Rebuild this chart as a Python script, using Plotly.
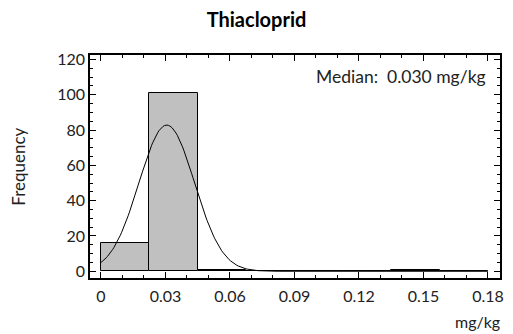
import numpy as np
import plotly.graph_objects as go

# Histogram bins (mg/kg) and frequencies
bin_left = [0.0, 0.0225, 0.045, 0.0675, 0.09, 0.1125, 0.135, 0.1575]
counts = [16, 101, 1, 0, 0, 0, 1, 0]
bin_width = 0.0225

# Fitted normal curve parameters
fit_mean = 0.0306
fit_sd = 0.0129
n_total = sum(counts)

x_ticks = [0, 0.03, 0.06, 0.09, 0.12, 0.15, 0.18]
x_tick_text = ["0", "0.03", "0.06", "0.09", "0.12", "0.15", "0.18"]
y_ticks = [0, 20, 40, 60, 80, 100, 120]

centers = [b + bin_width / 2 for b in bin_left]
xc = np.linspace(0, 0.18, 300)
yc = n_total * bin_width / (fit_sd * np.sqrt(2 * np.pi)) * np.exp(-0.5 * ((xc - fit_mean) / fit_sd) ** 2)

FONT = "Lato"

fig = go.Figure()
fig.add_trace(go.Bar(x=centers, y=counts, width=[bin_width] * len(counts),
                     marker=dict(color="#c0c0c0", line=dict(color="#000000", width=1)),
                     showlegend=False))
fig.add_trace(go.Scatter(x=xc, y=yc, mode="lines", line=dict(color="#000000", width=1),
                         showlegend=False))

axis_common = dict(showline=True, linecolor="#000000", linewidth=1.5, mirror="ticks",
                   ticks="inside", ticklen=6, tickcolor="#000000", tickwidth=1,
                   showgrid=False, zeroline=False, automargin=False,
                   tickfont=dict(family=FONT, size=16, color="#222222"))

fig.update_layout(
    width=513, height=334,
    margin=dict(l=90, r=13, t=55, b=56),
    plot_bgcolor="white", paper_bgcolor="white",
    bargap=0,
    title=dict(text="<b>Thiacloprid</b>", x=0.5, xanchor="center", y=0.94, yanchor="middle",
               font=dict(family=FONT, size=20, color="#000000")),
    xaxis=dict(range=[-0.0051, 0.1856], tickvals=x_ticks, ticktext=x_tick_text,
               ticklabelstandoff=3,
               minor=dict(dtick=0.01, tick0=0, ticks="inside", ticklen=3, tickcolor="#000000"),
               **axis_common),
    yaxis=dict(range=[-3.8, 122.5], tickvals=y_ticks,
               minor=dict(dtick=5, tick0=0, ticks="inside", ticklen=3, tickcolor="#000000"),
               **axis_common),
    annotations=[
        dict(text="Median:  0.030 mg/kg", xref="paper", yref="paper", x=0.97, y=0.96,
             xanchor="right", yanchor="top", showarrow=False,
             font=dict(family=FONT, size=17.5, color="#222222")),
        dict(text="Frequency", xref="paper", yref="paper", x=-0.175, y=0.5,
             xanchor="center", yanchor="middle", textangle=-90, showarrow=False,
             font=dict(family=FONT, size=17, color="#222222")),
        dict(text="mg/kg", xref="paper", yref="paper", x=0.945, y=-0.195,
             xanchor="center", yanchor="middle", showarrow=False,
             font=dict(family=FONT, size=16, color="#222222")),
    ],
)

fig.write_html("out.html")
